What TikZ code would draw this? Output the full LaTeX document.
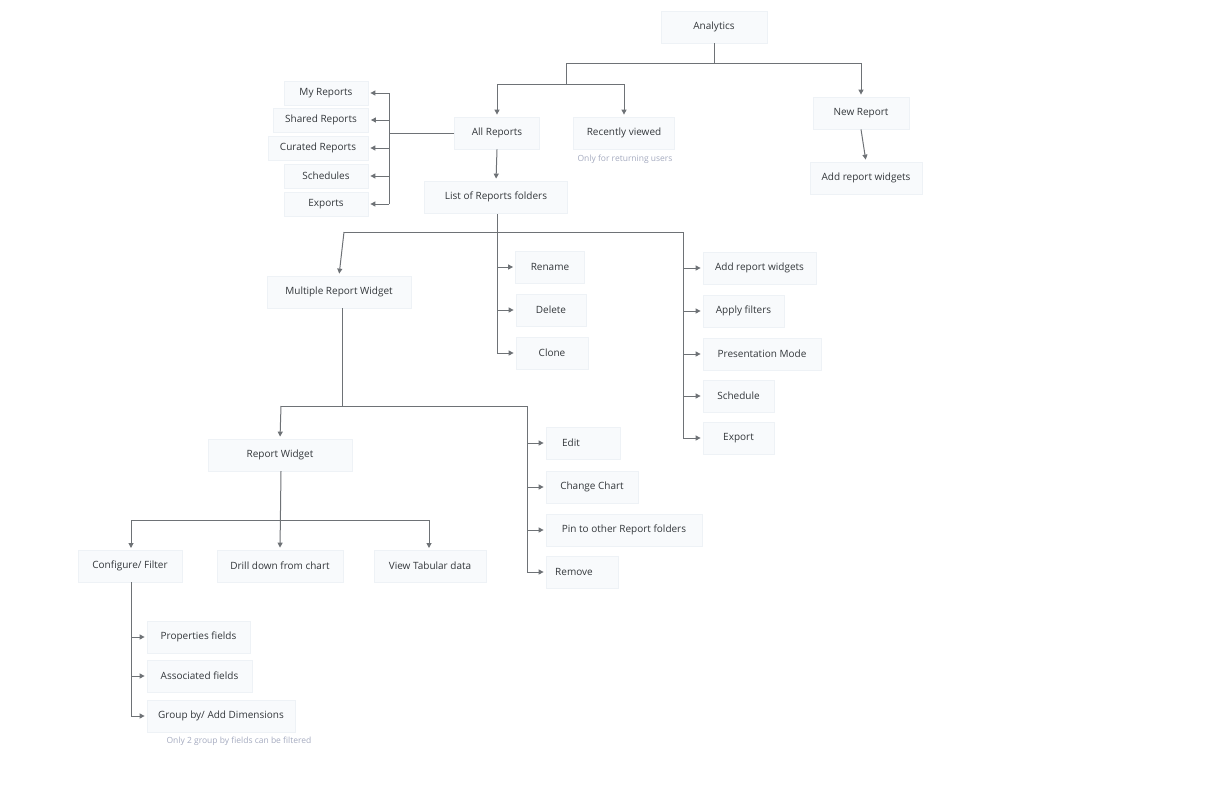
\documentclass[tikz,border=0pt]{standalone}
\usepackage{fontspec}
\setmainfont{Open Sans}
\usetikzlibrary{arrows.meta}
\definecolor{boxfill}{HTML}{F8FAFC}
\definecolor{boxline}{HTML}{EEF2F6}
\definecolor{conn}{HTML}{6E7276}
\definecolor{txt}{HTML}{33373B}
\definecolor{notec}{HTML}{A4AABF}
\tikzset{
  bx/.style={draw=boxline, fill=boxfill, line width=0.8pt, text=txt, font=\fontsize{10}{12}\selectfont, minimum height=32pt, inner xsep=4pt, anchor=center},
  note/.style={text=notec, font=\fontsize{8.5}{10}\selectfont},
  ln/.style={draw=conn, line width=1pt},
  ar/.style={ln, -{Triangle[length=5pt,width=5pt]}, shorten >=2pt},
}
\begin{document}
\begin{tikzpicture}[x=1pt,y=-1pt]
\useasboundingbox (0,0) rectangle (1213,809);
\node[bx,minimum width=106pt] (an) at (714,27) {Analytics};
\node[bx,minimum width=85pt] (all) at (497,133) {All Reports};
\node[bx,minimum width=101pt] (rv) at (624,133) {Recently viewed};
\node[note] (rvn) at (625,159) {Only for returning users};
\node[bx,minimum width=96pt] (nr) at (861,113) {New Report};
\node[bx,minimum width=112pt] (arw) at (866,178) {Add report widgets};
\node[bx,minimum width=84pt,minimum height=24pt] (my) at (326,93) {My Reports};
\node[bx,minimum width=95pt,minimum height=24pt] (sh) at (321,120) {Shared Reports};
\node[bx,minimum width=100pt,minimum height=24pt] (cu) at (318,148) {Curated Reports};
\node[bx,minimum width=84pt,minimum height=24pt] (sc) at (326,176) {Schedules};
\node[bx,minimum width=84pt,minimum height=24pt] (ex) at (326,204) {Exports};
\node[bx,minimum width=143pt] (lst) at (496,197) {List of Reports folders};
\node[bx,minimum width=144pt] (mrw) at (339,292) {Multiple Report Widget};
\node[bx,minimum width=69pt] (ren) at (550,267) {Rename};
\node[bx,minimum width=70pt] (del) at (551,310) {Delete};
\node[bx,minimum width=72pt] (clo) at (552,353) {Clone};
\node[bx,minimum width=113pt] (aw2) at (759.5,268) {Add report widgets};
\node[bx,minimum width=81pt] (af) at (743.5,311) {Apply filters};
\node[bx,minimum width=118pt] (pm) at (762,354) {Presentation Mode};
\node[bx,minimum width=71pt] (sch) at (738.5,396) {Schedule};
\node[bx,minimum width=71pt] (exp) at (738.5,438) {Export};
\node[bx,minimum width=144pt] (rw) at (280,455) {Report Widget};
\node[bx,minimum width=74pt] (ed) at (583,443) {\hspace*{-24pt}Edit};
\node[bx,minimum width=92pt] (cc) at (592,487) {Change Chart};
\node[bx,minimum width=156pt] (pin) at (624,530) {Pin to other Report folders};
\node[bx,minimum width=72pt] (rem) at (582,572) {\hspace*{-16pt}Remove};
\node[bx,minimum width=104pt] (cf) at (130,566) {Configure/ Filter};
\node[bx,minimum width=126pt] (dd) at (280,566) {Drill down from chart};
\node[bx,minimum width=112pt] (vt) at (430,566) {View Tabular data};
\node[bx,minimum width=103pt] (pf) at (198.5,637) {Properties fields};
\node[bx,minimum width=105pt] (asf) at (199.5,676) {Associated fields};
\node[bx,minimum width=148pt] (gb) at (221,716) {Group by/ Add Dimensions};
\node[note] (gbn) at (239,741) {Only 2 group by fields can be filtered};
% connectors
\coordinate (j1) at (714,63);
\draw[ln] (an.south) -- (j1);
\draw[ar] (566,63) -- (861,63) -- (nr.north);
\draw[ln] (566,63) -- (566,84);
\draw[ar] (566,84) -- (497,84) -- (all.north);
\draw[ar] (566,84) -- (624,84) -- (rv.north);
\draw[ar] (nr.south) -- (arw.north);
\draw[ln] (all.west) -- (389,133);
\draw[ln] (389,93) -- (389,204);
\foreach \n in {my,sh,cu,sc,ex} \draw[ar] (389,0 |- \n.east) -- (\n.east);
\draw[ar] (all.south) -- (lst.north);
\draw[ln] (497,214) -- (497,353);
\draw[ln] (344,232) -- (683,232);
\draw[ar] (344,232) -- (mrw.north);
\draw[ln] (683,232) -- (683,438);
\foreach \n in {ren,del,clo} \draw[ar] (497,0 |- \n.west) -- (\n.west);
\foreach \n in {aw2,af,pm,sch,exp} \draw[ar] (683,0 |- \n.west) -- (\n.west);
\draw[ln] (342,308) -- (342,406);
\draw[ln] (281,406) -- (527,406) -- (527,572);
\draw[ar] (281,406) -- (rw.north);
\foreach \n in {ed,cc,pin,rem} \draw[ar] (527,0 |- \n.west) -- (\n.west);
\draw[ar] (281,471) -- (dd.north);
\draw[ln] (131,520) -- (429,520);
\draw[ar] (131,520) -- (131,550);
\draw[ar] (429,520) -- (429,550);
\draw[ln] (131,582) -- (131,716);
\foreach \n in {pf,asf,gb} \draw[ar] (131,0 |- \n.west) -- (\n.west);
\end{tikzpicture}
\end{document}
